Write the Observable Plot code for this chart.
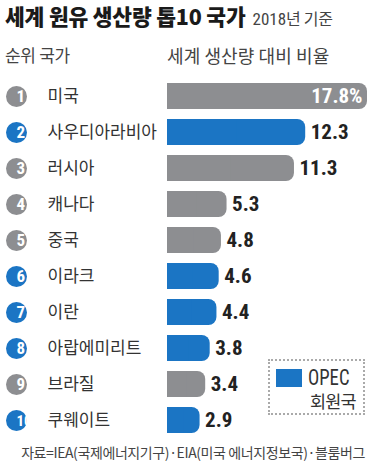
<!DOCTYPE html>
<html>
<head>
<meta charset="utf-8">
<script src="https://cdn.jsdelivr.net/npm/d3@7"></script>
<script src="https://cdn.jsdelivr.net/npm/@observablehq/plot@0.6"></script>
<style>
  html, body { margin: 0; padding: 0; background: #fff; }
  #wrap { position: relative; width: 386px; height: 473px; overflow: hidden; font-family: "Noto Sans CJK KR", "Noto Sans", sans-serif; color: #222; }
  .abs { position: absolute; white-space: nowrap; line-height: 1.2; }
  #title { left: 5px; top: 3px; font-size: 21.5px; font-weight: 900; letter-spacing: -0.2px; color: #1a1a1a; }
  #title span { font-size: 16px; font-weight: normal; color: #444; letter-spacing: -0.3px; margin-left: 7px; }
  #title span i { font-style: normal; font-family: "Roboto Condensed", "Roboto", sans-serif; font-size: 17px; letter-spacing: 0; }
  .hdr { top: 45px; color: #444; }
  #chart { left: 0; top: 77px; }
  #legend { left: 268px; top: 359px; width: 93px; height: 52px; border: 2px dotted #aaaaaa; }
  #sw { position: absolute; left: 6px; top: 8px; width: 26px; height: 18px; background: #1b75c4; }
  #lg1 { position: absolute; left: 38px; top: 7px; line-height: 20px; font-family: "Roboto Condensed", "Roboto", sans-serif; font-size: 22px; color: #333; transform: scaleX(0.85); transform-origin: left center; }
  #lg2 { position: absolute; left: 40px; top: 31px; line-height: 18px; font-size: 17.5px; color: #333; letter-spacing: -0.8px; }
  #caption { left: 0; width: 386px; top: 444px; text-align: center; font-size: 14px; color: #444; letter-spacing: -0.4px; }
</style>
</head>
<body>
<div id="wrap">
  <div id="title" class="abs">세계 원유 생산량 톱10 국가<span><i>2018</i>년 기준</span></div>
  <div class="abs hdr" style="left:5px; font-size:17px; letter-spacing:-0.3px">순위 국가</div>
  <div class="abs hdr" style="left:167px; font-size:18px; letter-spacing:0.1px">세계 생산량 대비 비율</div>
  <div id="chart" class="abs"></div>
  <div id="legend" class="abs"><div id="sw"></div><div id="lg1">OPEC</div><div id="lg2">회원국</div></div>
  <div id="caption" class="abs">자료=IEA(국제에너지기구)·EIA(미국 에너지정보국)·블룸버그</div>
</div>
<script>
const ranks = [1, 2, 3, 4, 5, 6, 7, 8, 9, 10];
const countries = ["미국", "사우디아라비아", "러시아", "캐나다", "중국", "이라크", "이란", "아랍에미리트", "브라질", "쿠웨이트"];
const shares = [17.8, 12.3, 11.3, 5.3, 4.8, 4.6, 4.4, 3.8, 3.4, 2.9];
const groups = ["비OPEC", "OPEC", "비OPEC", "비OPEC", "비OPEC", "OPEC", "OPEC", "OPEC", "비OPEC", "OPEC"];
const groupNames = ["OPEC", "비OPEC"];
const groupColors = ["#1b75c4", "#8d8e91"];

const data = ranks.map((r, i) => ({
  rank: r,
  rankLabel: String(r),
  country: countries[i],
  share: shares[i],
  group: groups[i],
  label: i === 0 ? shares[i].toFixed(1) + "%" : shares[i].toFixed(1)
}));

const numFont = "'Roboto Condensed', Roboto, sans-serif";
const korFont = "'Noto Sans CJK KR', 'Noto Sans', sans-serif";

const chart = Plot.plot({
  width: 386,
  height: 362,
  marginLeft: 167,
  marginRight: 19,
  marginTop: 0,
  marginBottom: 0,
  style: { background: "transparent", overflow: "visible" },
  x: { domain: [0, 17.8], axis: null },
  y: { domain: ranks, axis: null, paddingInner: 0.27, paddingOuter: 0.135 },
  color: { domain: groupNames, range: groupColors },
  marks: [
    Plot.barX(data, { x: "share", y: "rank", fill: "group", rx: 8 }),
    Plot.barX(data, { x1: 0, x2: d => d.share / 2, y: "rank", fill: "group" }),
    Plot.dot(data, { y: "rank", frameAnchor: "left", dx: -151, r: 10.5, fill: "group" }),
    Plot.text(data.filter(d => d.rank < 10), { y: "rank", text: "rankLabel", frameAnchor: "left", dx: -151, dy: 0.5, fill: "white", fontWeight: "bold", fontSize: 17, fontFamily: numFont }),
    Plot.text(data.filter(d => d.rank >= 10), { y: "rank", text: "rankLabel", frameAnchor: "left", dx: -151, dy: 0.5, fill: "white", fontWeight: "bold", fontSize: 15, fontFamily: numFont }),
    Plot.text(data, { y: "rank", text: "country", frameAnchor: "left", dx: -120, textAnchor: "start", fontSize: 17, fontFamily: korFont, fill: "#333" }),
    Plot.text(data.slice(1), { x: "share", y: "rank", text: "label", dx: 5, textAnchor: "start", fontSize: 21, fontWeight: "bold", fontFamily: numFont, fill: "#222" }),
    Plot.text(data.slice(0, 1), { x: "share", y: "rank", text: "label", dx: -5, textAnchor: "end", fontSize: 21, fontWeight: "bold", fontFamily: numFont, fill: "white" })
  ]
});
document.getElementById("chart").appendChild(chart);
</script>
</body>
</html>
